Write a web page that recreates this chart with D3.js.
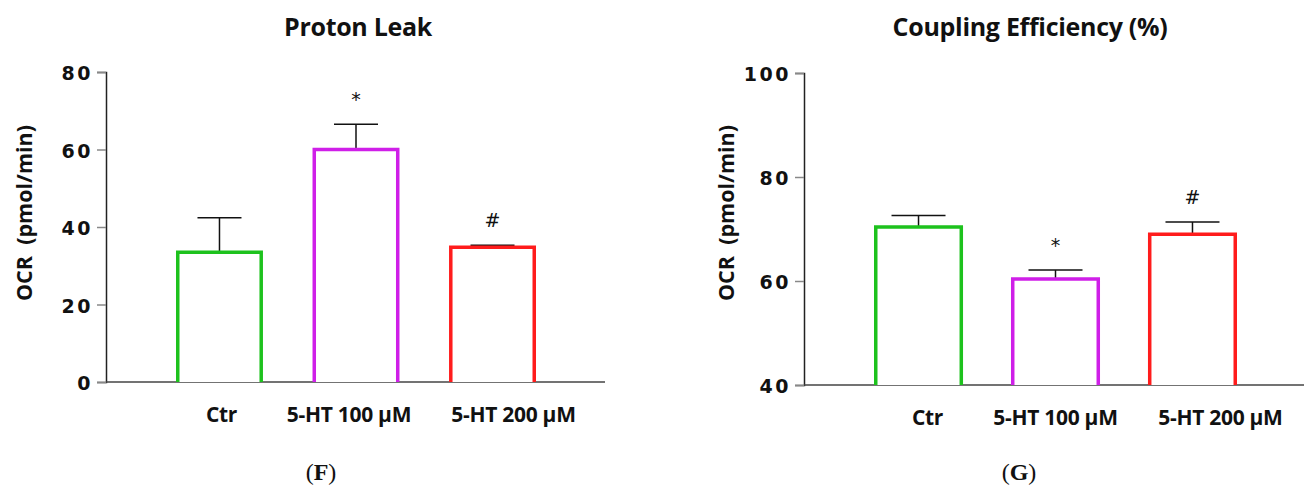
<!DOCTYPE html>
<html>
<head>
<meta charset="utf-8">
<script src="https://cdn.jsdelivr.net/npm/d3@7/dist/d3.min.js"></script>
<style>
  html, body { margin: 0; padding: 0; background: #fff; }
  svg { display: block; }
</style>
</head>
<body>
<svg id="chart" width="1304" height="488"></svg>
<script>
// Groups shared by both panels
const categories = ["Ctr", "5-HT 100 \u00B5M", "5-HT 200 \u00B5M"];
const barColors = ["#1dc21d", "#cf1fe8", "#ff1c1c"];

// Panel F: proton leak (mean and SEM)
const leakMean = [33.5, 60.0, 34.8];
const leakSem = [8.9, 6.5, 0.5];
const leakMarks = ["", "*", "#"];
const leakTicks = [0, 20, 40, 60, 80];

// Panel G: coupling efficiency (mean and SEM)
const couplingMean = [70.4, 60.4, 69.0];
const couplingSem = [2.2, 1.7, 2.35];
const couplingMarks = ["", "*", "#"];
const couplingTicks = [40, 60, 80, 100];

const svg = d3.select("#chart");

function drawPanel(cfg) {
  const g = svg.append("g");

  const x = d3.scaleBand()
    .domain(categories)
    .range([cfg.barStart, cfg.barEnd])
    .paddingInner(cfg.padInner)
    .paddingOuter(0);

  const y = d3.scaleLinear()
    .domain([cfg.ticks[0], cfg.ticks[cfg.ticks.length - 1]])
    .range([cfg.yBottom, cfg.yTop]);

  // title
  g.append("text")
    .attr("x", cfg.titleX).attr("y", 36)
    .attr("text-anchor", "middle")
    .attr("font-family", "'Open Sans', sans-serif")
    .attr("font-weight", 700)
    .attr("font-size", 25)
    .attr("letter-spacing", -0.3)
    .attr("fill", "#111")
    .text(cfg.title);

  // y axis
  const yAxis = d3.axisLeft(y)
    .tickValues(cfg.ticks)
    .tickSize(9)
    .tickPadding(4)
    .tickFormat(d3.format("d"));
  const ya = g.append("g")
    .attr("transform", `translate(${cfg.axisX},0)`)
    .call(yAxis);
  ya.select(".domain").attr("stroke", "#222").attr("stroke-width", 1.5);
  ya.selectAll(".tick line").attr("stroke", "#888").attr("stroke-width", 1.5);
  ya.selectAll(".tick text")
    .attr("font-family", "'DejaVu Sans', sans-serif")
    .attr("font-weight", 700)
    .attr("font-size", 19)
    .attr("letter-spacing", 2.5)
    .attr("fill", "#111")
    .attr("dy", "0.42em");

  // x baseline
  g.append("line")
    .attr("x1", cfg.axisX).attr("x2", cfg.axisEnd)
    .attr("y1", y(cfg.ticks[0])).attr("y2", y(cfg.ticks[0]))
    .attr("stroke", "#444").attr("stroke-width", 1.5);

  // y label
  g.append("text")
    .attr("transform", `translate(${cfg.yLabelX},213) rotate(-90)`)
    .attr("text-anchor", "middle")
    .attr("dominant-baseline", "central")
    .attr("font-family", "'Open Sans', sans-serif")
    .attr("font-weight", 700)
    .attr("font-size", 21.5)
    .attr("fill", "#111")
    .attr("xml:space", "preserve")
    .text("OCR  (pmol/min)");

  const rows = categories.map((c, i) => ({
    cat: c, mean: cfg.mean[i], sem: cfg.sem[i], mark: cfg.marks[i],
    color: barColors[i], shift: cfg.labelShift[i]
  }));

  const sw = 3.5;
  // error bars (upper only), drawn behind the bar outline
  const eb = g.selectAll(".err").data(rows).join("g").attr("class", "err");
  eb.append("line")
    .attr("x1", d => x(d.cat) + x.bandwidth() / 2)
    .attr("x2", d => x(d.cat) + x.bandwidth() / 2)
    .attr("y1", d => y(d.mean))
    .attr("y2", d => y(d.mean + d.sem))
    .attr("stroke", "#111").attr("stroke-width", 1.5);
  eb.append("line")
    .attr("x1", d => x(d.cat) + x.bandwidth() / 2 - cfg.capHalf)
    .attr("x2", d => x(d.cat) + x.bandwidth() / 2 + cfg.capHalf)
    .attr("y1", d => y(d.mean + d.sem))
    .attr("y2", d => y(d.mean + d.sem))
    .attr("stroke", "#111").attr("stroke-width", 1.5);

  // open bars
  g.selectAll(".bar").data(rows).join("path")
    .attr("class", "bar")
    .attr("d", d => {
      const x0 = x(d.cat) + sw / 2, x1 = x(d.cat) + x.bandwidth() - sw / 2;
      const yb = y(cfg.ticks[0]), yt = y(d.mean);
      return `M${x0},${yb}V${yt}H${x1}V${yb}`;
    })
    .attr("fill", "#fff")
    .attr("stroke", d => d.color)
    .attr("stroke-width", sw);

  // significance marks
  g.selectAll(".mark").data(rows.filter(d => d.mark)).join("text")
    .attr("class", "mark")
    .attr("x", d => x(d.cat) + x.bandwidth() / 2)
    .attr("y", d => y(d.mean + d.sem) - 18)
    .attr("text-anchor", "middle")
    .attr("font-family", "'DejaVu Sans', sans-serif")
    .attr("font-size", 19)
    .attr("fill", "#111")
    .text(d => d.mark);

  // category labels
  g.selectAll(".cat").data(rows).join("text")
    .attr("class", "cat")
    .attr("x", d => x(d.cat) + x.bandwidth() / 2 + d.shift)
    .attr("y", cfg.labelY)
    .attr("text-anchor", "middle")
    .attr("font-family", "'Open Sans', sans-serif")
    .attr("font-weight", 700)
    .attr("font-size", 21)
    .attr("letter-spacing", -0.3)
    .attr("fill", "#111")
    .text(d => d.cat);

  // panel letter
  g.append("text")
    .attr("x", cfg.letterX).attr("y", 480)
    .attr("text-anchor", "middle")
    .attr("font-family", "'Liberation Serif', serif")
    .attr("font-size", 24)
    .attr("fill", "#111")
    .html(`(<tspan font-weight="700">${cfg.letter}</tspan>)`);
}

drawPanel({
  title: "Proton Leak", titleX: 358,
  mean: leakMean, sem: leakSem, marks: leakMarks, ticks: leakTicks,
  axisX: 106, axisEnd: 605, yTop: 72, yBottom: 382,
  barStart: 176, barEnd: 536, padInner: 0.363, capHalf: 22,
  yLabelX: 23, labelY: 422, labelShift: [2, -7, 21],
  letter: "F", letterX: 321
});

drawPanel({
  title: "Coupling Efficiency (%)", titleX: 1030,
  mean: couplingMean, sem: couplingSem, marks: couplingMarks, ticks: couplingTicks,
  axisX: 804, axisEnd: 1304, yTop: 73, yBottom: 385,
  barStart: 874, barEnd: 1237, padInner: 0.35, capHalf: 27,
  yLabelX: 725, labelY: 425, labelShift: [9, 0, 28],
  letter: "G", letterX: 1019
});
</script>
</body>
</html>
